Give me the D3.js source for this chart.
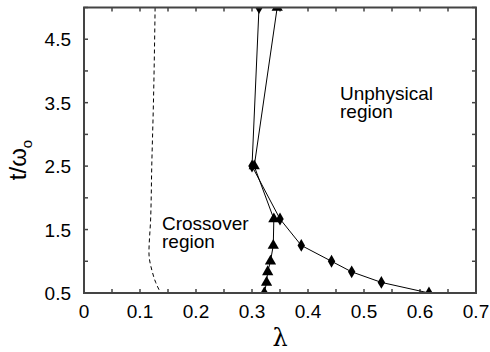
<!DOCTYPE html>
<html lang="en">
<head>
<meta charset="utf-8">
<title>phase diagram</title>
<style>
  body { margin: 0; background: #fff; }
  text { font-family: "Liberation Sans", Arial, sans-serif; fill: #000; }
  .frame { fill: none; stroke: #444; stroke-width: 2; }
  .tick { stroke: #444; stroke-width: 1.5; }
  .series { fill: none; stroke: #000; stroke-width: 1; }
  .dash { fill: none; stroke: #000; stroke-width: 1; stroke-dasharray: 4,3; }
</style>
<script src="https://d3js.org/d3.v7.min.js"></script>
</head>
<body>
<script>
var w = 490, h = 352;
var margin = {left: 84, right: 14, top: 7.5, bottom: 59};

// t/omega_0 values shared by all curves
var tVals = [5.0, 2.5, 1.667, 1.25, 1.0, 0.833, 0.667, 0.5];
// lambda for the diamond curve
var lamDiamond = [0.3125, 0.300, 0.350, 0.388, 0.442, 0.478, 0.531, 0.616];
// lambda for the triangle curve
var lamTriangle = [0.345, 0.304, 0.339, 0.338, 0.333, 0.328, 0.326, 0.322];
// crossover (dashed) line
var tDash = [5.0, 3.5, 2.5, 1.667, 1.13, 0.833, 0.667, 0.5];
var lamDash = [0.127, 0.124, 0.121, 0.119, 0.116, 0.122, 0.128, 0.137];

var xTickLabels = ["0", "0.1", "0.2", "0.3", "0.4", "0.5", "0.6", "0.7"];
var yTickLabels = ["0.5", "1.5", "2.5", "3.5", "4.5"];

var svg = d3.select("body").append("svg")
  .attr("width", w).attr("height", h);

var x = d3.scaleLinear().domain([0, 0.7]).range([margin.left, w - margin.right]);
var y = d3.scaleLinear().domain([0.5, 5.0]).range([h - margin.bottom, margin.top]);

svg.append("clipPath").attr("id", "plot")
  .append("rect")
  .attr("x", x(0)).attr("y", y(5))
  .attr("width", x(0.7) - x(0)).attr("height", y(0.5) - y(5));

// ticks (inward on all four sides)
var xt = d3.range(0, 0.7001, 0.05);
var yt = d3.range(0.5, 5.0001, 0.5);
var g = svg.append("g");
xt.forEach(function(v) {
  g.append("line").attr("class", "tick")
    .attr("x1", x(v)).attr("x2", x(v)).attr("y1", y(0.5)).attr("y2", y(0.5) - 4);
  g.append("line").attr("class", "tick")
    .attr("x1", x(v)).attr("x2", x(v)).attr("y1", y(5)).attr("y2", y(5) + 4);
});
yt.forEach(function(v) {
  g.append("line").attr("class", "tick")
    .attr("x1", x(0)).attr("x2", x(0) + 4).attr("y1", y(v)).attr("y2", y(v));
  g.append("line").attr("class", "tick")
    .attr("x1", x(0.7)).attr("x2", x(0.7) - 4).attr("y1", y(v)).attr("y2", y(v));
});

// tick labels
svg.selectAll(".xl").data(xTickLabels).enter().append("text")
  .attr("x", function(d) { return x(+d); })
  .attr("y", 318)
  .attr("text-anchor", "middle")
  .style("font-size", "19px")
  .text(function(d) { return d; });
svg.selectAll(".yl").data(yTickLabels).enter().append("text")
  .attr("x", 71)
  .attr("y", function(d) { return y(+d) + 7; })
  .attr("text-anchor", "end")
  .style("font-size", "19px")
  .text(function(d) { return d; });

// axis titles
var yt_ = svg.append("text")
  .attr("transform", "translate(26,160) rotate(-90)")
  .attr("text-anchor", "middle")
  .style("font-size", "24px");
yt_.append("tspan").text("t/\u03c9");
yt_.append("tspan").attr("dy", 6).style("font-size", "15px").text("o");

svg.append("text")
  .attr("x", x(0.35)).attr("y", 346)
  .attr("text-anchor", "middle")
  .style("font-size", "24px")
  .style("font-family", "'DejaVu Serif', serif")
  .text("\u03bb");

// curves
var plot = svg.append("g").attr("clip-path", "url(#plot)");

var dashData = tDash.map(function(t, i) { return [lamDash[i], t]; });
plot.append("path").attr("class", "dash")
  .attr("d", d3.line().curve(d3.curveMonotoneY)
    .x(function(d) { return x(d[0]); }).y(function(d) { return y(d[1]); })(dashData));

var line = d3.line().x(function(d) { return x(d[0]); }).y(function(d) { return y(d[1]); });
var dia = tVals.map(function(t, i) { return [lamDiamond[i], t]; });
var tri = tVals.map(function(t, i) { return [lamTriangle[i], t]; });

plot.append("path").attr("class", "series").attr("d", line(dia));
plot.append("path").attr("class", "series").attr("d", line(tri));

plot.selectAll(".dia").data(dia).enter().append("path")
  .attr("transform", function(d) { return "translate(" + x(d[0]) + "," + y(d[1]) + ")"; })
  .attr("d", d3.symbol().type(d3.symbolDiamond).size(48))
  .attr("fill", "#000");
plot.selectAll(".tri").data(tri).enter().append("path")
  .attr("transform", function(d) { return "translate(" + x(d[0]) + "," + y(d[1]) + ")"; })
  .attr("d", d3.symbol().type(d3.symbolTriangle).size(55))
  .attr("fill", "#000");

// frame
svg.append("rect").attr("class", "frame")
  .attr("x", x(0)).attr("y", y(5))
  .attr("width", x(0.7) - x(0)).attr("height", y(0.5) - y(5));

// region labels
function label(lines, lx, ly) {
  var t = svg.append("text").attr("x", lx).attr("y", ly).style("font-size", "19px");
  lines.forEach(function(s, i) {
    t.append("tspan").attr("x", lx).attr("dy", i ? 18 : 0).text(s);
  });
}
label(["Unphysical", "region"], 340, 100);
label(["Crossover", "region"], 162, 230);
</script>
</body>
</html>
